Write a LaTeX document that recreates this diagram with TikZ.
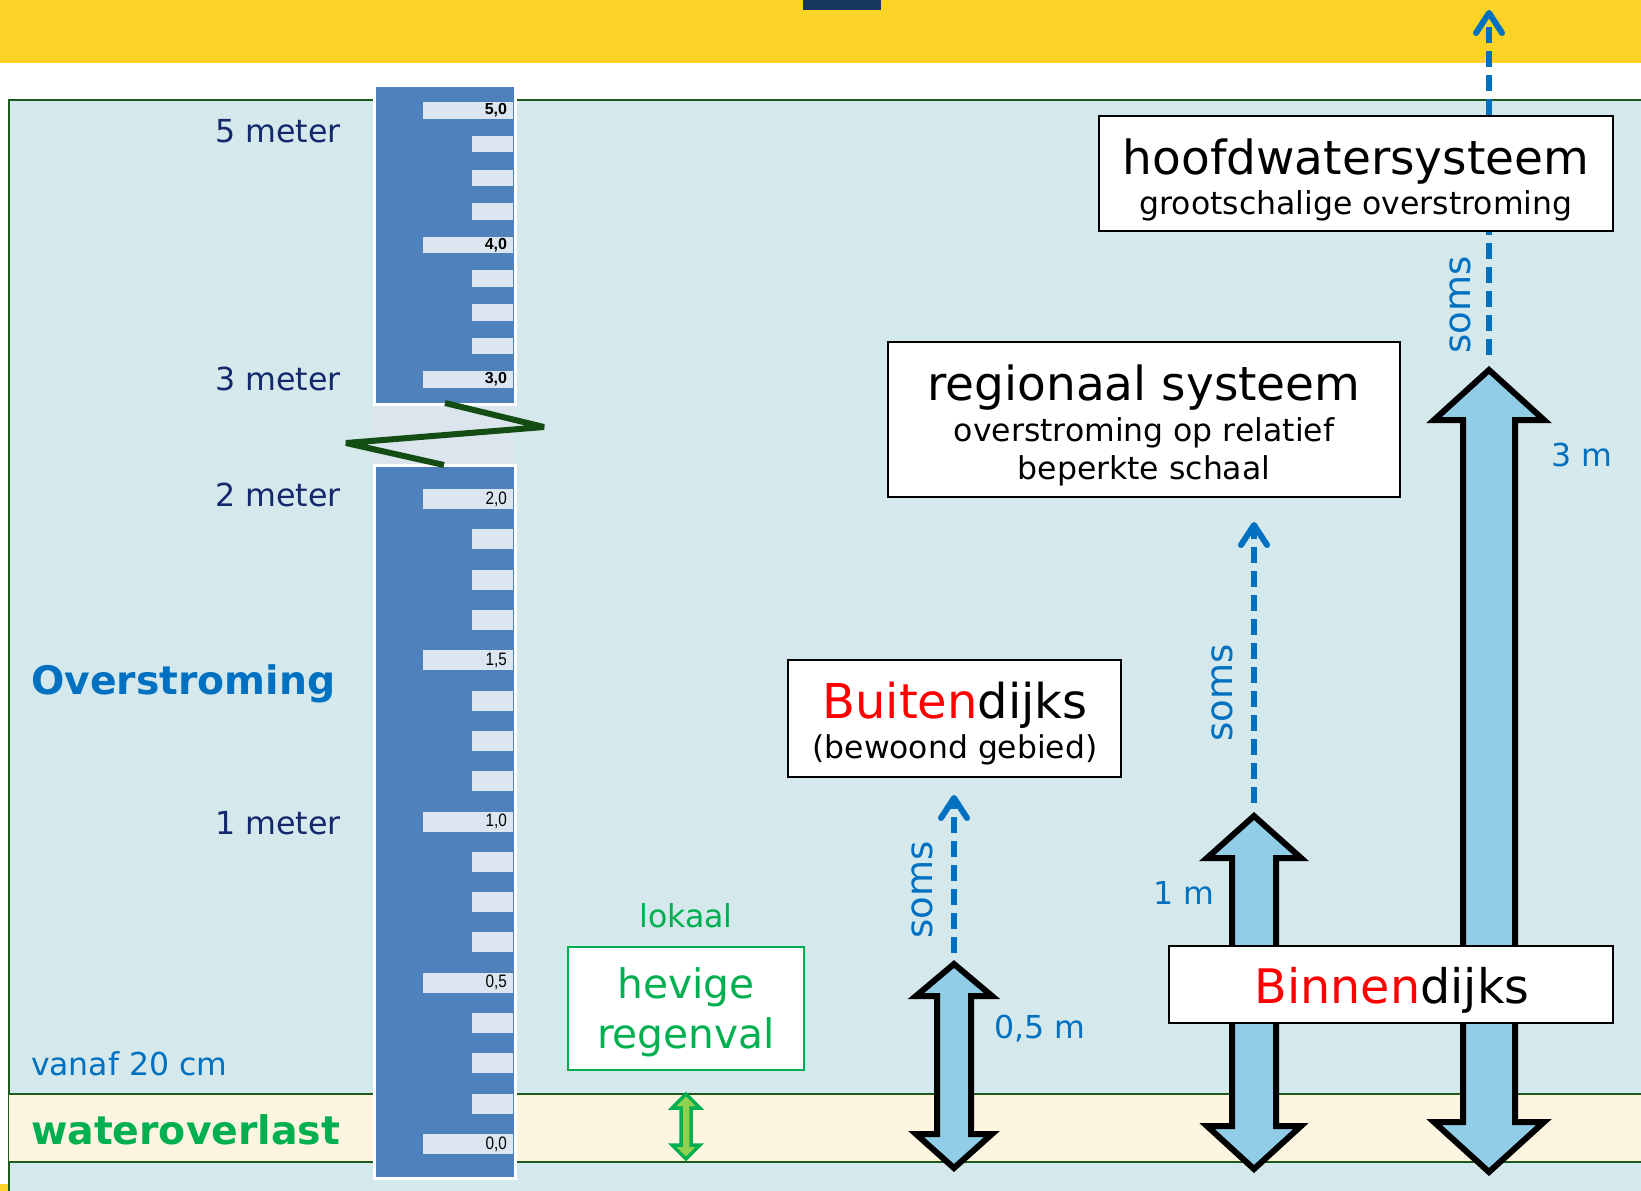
\documentclass[tikz,border=0pt]{standalone}
\usepackage{fontspec}
\setmainfont{DejaVu Sans}
\newfontfamily\narrowfont[FakeStretch=0.85]{Liberation Sans}
\newfontfamily\tickfont{Liberation Sans}
\usetikzlibrary{arrows.meta}
\definecolor{yellowband}{HTML}{FAD326}
\definecolor{titlesq}{HTML}{17375E}
\definecolor{bgblue}{HTML}{D5E8EB}
\definecolor{framegreen}{HTML}{1D5B1D}
\definecolor{cream}{HTML}{FDF5DF}
\definecolor{rulerblue}{HTML}{4F81BD}
\definecolor{tickfill}{HTML}{DCE6F1}
\definecolor{gapfill}{HTML}{DCE4EE}
\definecolor{zig}{HTML}{144D14}
\definecolor{arrowfill}{HTML}{92CDE8}
\definecolor{bluetext}{HTML}{0070C0}
\definecolor{navy}{HTML}{14286E}
\definecolor{greentext}{HTML}{00B050}
\definecolor{lightgreen}{HTML}{92D050}
\newcommand\fsz[1]{\fontsize{#1}{#1}\selectfont}
\newcommand\dblarr[7]{%
  \draw[bigarrow] (#1,#2) -- ({#1+#6},#3) -- ({#1+#7},#3) -- ({#1+#7},#4) -- ({#1+#6},#4)
    -- (#1,#5) -- ({#1-#6},#4) -- ({#1-#7},#4) -- ({#1-#7},#3) -- ({#1-#6},#3) -- cycle;}
\tikzset{
  bigarrow/.style={fill=arrowfill, draw=black, line width=6, line join=miter},
  dasharrow/.style={draw=bluetext, line width=6, dash pattern=on 16pt off 8pt,
    -{Straight Barb[length=20pt,width=26pt,round]}},
  boxnode/.style={draw=black, fill=white, line width=1.5, inner sep=0pt},
  txt/.style={inner sep=0pt, outer sep=0pt},
  meterlbl/.style={txt, anchor=east, text=navy, font=\fsz{31.7}},
  somslbl/.style={txt, rotate=90, text=bluetext, font=\fsz{37}},
  mlbl/.style={txt, anchor=base west, text=bluetext, font=\fsz{31.6}},
}
\begin{document}
\begin{tikzpicture}[x=1pt,y=-1pt]
\useasboundingbox (0,0) rectangle (1641,1191);
% background and top band
\fill[white] (0,0) rectangle (1641,1191);
\fill[fill=yellowband] (0,0) rectangle (1641,63);
\fill[fill=titlesq] (803,0) rectangle (881,10);
\fill[fill=yellowband] (0,1184) rectangle (8,1191);
% frame
\path[fill=bgblue] (9,100) rectangle (1645,1195);
\draw[draw=framegreen, line width=2] (9,1195) -- (9,100) -- (1645,100);
\fill[fill=cream] (9,1094) rectangle (1645,1162);
\draw[draw=framegreen, line width=2] (9,1094) -- (1645,1094) (9,1162) -- (1645,1162);

% ruler
\fill[white] (373,84) rectangle (517,406);
\fill[fill=rulerblue] (376,87) rectangle (514,403);
\fill[fill=gapfill] (373,406) rectangle (514,464);
\fill[white] (373,464) rectangle (517,1180);
\fill[fill=rulerblue] (376,467) rectangle (514,1177);
\foreach \i in {0,...,8}{
  \pgfmathsetmacro\yc{110.5+\i*33.625}
  \pgfmathtruncatemacro\ismaj{mod(\i,4)==0}
  \ifnum\ismaj=1
    \fill[fill=tickfill] (423,\yc-8.25) rectangle (513,\yc+8.25);
  \else
    \fill[fill=tickfill] (472,\yc-8.25) rectangle (513,\yc+8.25);
  \fi
}
\foreach \i in {0,...,16}{
  \pgfmathsetmacro\yc{499+\i*40.3125}
  \pgfmathtruncatemacro\ismaj{mod(\i,4)==0}
  \ifnum\ismaj=1
    \fill[fill=tickfill] (423,\yc-10) rectangle (513,\yc+10);
  \else
    \fill[fill=tickfill] (472,\yc-10) rectangle (513,\yc+10);
  \fi
}
\foreach \lab/\yc/\nm in {{5,0}/110.5/t50, {4,0}/245/t40, {3,0}/379.5/t30}{
  \node[txt, anchor=east, font=\tickfont\bfseries\fsz{16}] (\nm) at (507,\yc) {\lab};
}
\foreach \lab/\yc/\nm in {{2,0}/499/t20, {1,5}/660.25/t15, {1,0}/821.5/t10, {0,5}/982.75/t05, {0,0}/1144/t00}{
  \node[txt, anchor=east, font=\narrowfont\fsz{18}] (\nm) at (507,\yc) {\lab};
}
% zigzag break
\draw[draw=zig, line width=6, line join=bevel] (445,403) -- (544,427) -- (346,443) -- (444,465);

% left labels
\node[meterlbl] (m5) at (341,131) {5 meter};
\node[meterlbl] (m3) at (341,379) {3 meter};
\node[meterlbl] (m2) at (341,495) {2 meter};
\node[meterlbl] (m1) at (341,823) {1 meter};
\node[txt, anchor=base west, text=bluetext, font=\fsz{39.3}\bfseries] (ov) at (31,694) {Overstroming};
\node[txt, anchor=west, text=bluetext, font=\fsz{31.5}] (vanaf) at (31,1064) {vanaf 20 cm};
\node[txt, anchor=west, text=greentext, font=\fsz{39.4}\bfseries] (wo) at (31,1130) {wateroverlast};

% local rain
\node[txt, anchor=base, text=greentext, font=\fsz{31.6}] (lokaal) at (686,927) {lokaal};
\node[draw=greentext, fill=white, line width=2, minimum width=236, minimum height=123, inner sep=0pt] (regen) at (686,1008.5) {};
\node[txt, anchor=base, text=greentext, font=\fsz{40.7}] (hev1) at (686,998) {hevige};
\node[txt, anchor=base, text=greentext, font=\fsz{40.7}] (hev2) at (686,1048) {regenval};
\draw[fill=lightgreen, draw=greentext, line width=3.5, line join=miter]
  (686,1094) -- (700,1108) -- (691,1108) -- (691,1145) -- (700,1145) -- (686,1159)
  -- (672,1145) -- (681,1145) -- (681,1108) -- (672,1108) -- cycle;

% big double arrows
\dblarr{954}{964}{996}{1134}{1168}{38}{17}
\dblarr{1254}{816}{858}{1126}{1169}{47}{22}
\dblarr{1489}{370}{420}{1122}{1172}{55}{26}

% dashed arrows
\coordinate (d1s) at (954,953);  \coordinate (d1e) at (954,795);
\coordinate (d2s) at (1254,803); \coordinate (d2e) at (1254,522);
\coordinate (d3s) at (1489,355); \coordinate (d3e) at (1489,10);
\draw[dasharrow] (d1s) -- (d1e);
\draw[dasharrow] (d2s) -- (d2e);
\draw[dasharrow] (d3s) -- (d3e);
\node[somslbl] (s1) at (922,890) {soms};
\node[somslbl] (s2) at (1222,693) {soms};
\node[somslbl] (s3) at (1460,305) {soms};
\node[mlbl] (l05) at (994,1038) {0,5 m};
\node[mlbl] (l1) at (1153,904) {1 m};
\node[mlbl] (l3) at (1551,466) {3 m};

% boxes
\node[boxnode, minimum width=514, minimum height=115] (hoofd) at (1356,173.5) {};
\node[txt, anchor=base, font=\fsz{47}] (hoofd1) at (1356,174) {hoofdwatersysteem};
\node[txt, anchor=base, font=\fsz{31.5}] (hoofd2) at (1356,214) {grootschalige overstroming};

\node[boxnode, minimum width=512, minimum height=155] (regio) at (1144,419.5) {};
\node[txt, anchor=base, font=\fsz{47}] (regio1) at (1144,400) {regionaal systeem};
\node[txt, anchor=base, font=\fsz{31.5}] (regio2) at (1144,441) {overstroming op relatief};
\node[txt, anchor=base, font=\fsz{31.5}] (regio3) at (1144,479) {beperkte schaal};

\node[boxnode, minimum width=333, minimum height=117] (buiten) at (954.5,718.5) {};
\node[txt, anchor=base, font=\fsz{48}] (buiten1) at (955,718) {\textcolor{red}{Buiten}dijks};
\node[txt, anchor=base, font=\fsz{31.4}] (buiten2) at (955,758) {(bewoond gebied)};

\node[boxnode, minimum width=444, minimum height=77] (binnen) at (1391,984.5) {};
\node[txt, anchor=base, font=\fsz{47.6}] (binnen1) at (1392,1003) {\textcolor{red}{Binnen}dijks};
\end{tikzpicture}
\end{document}
